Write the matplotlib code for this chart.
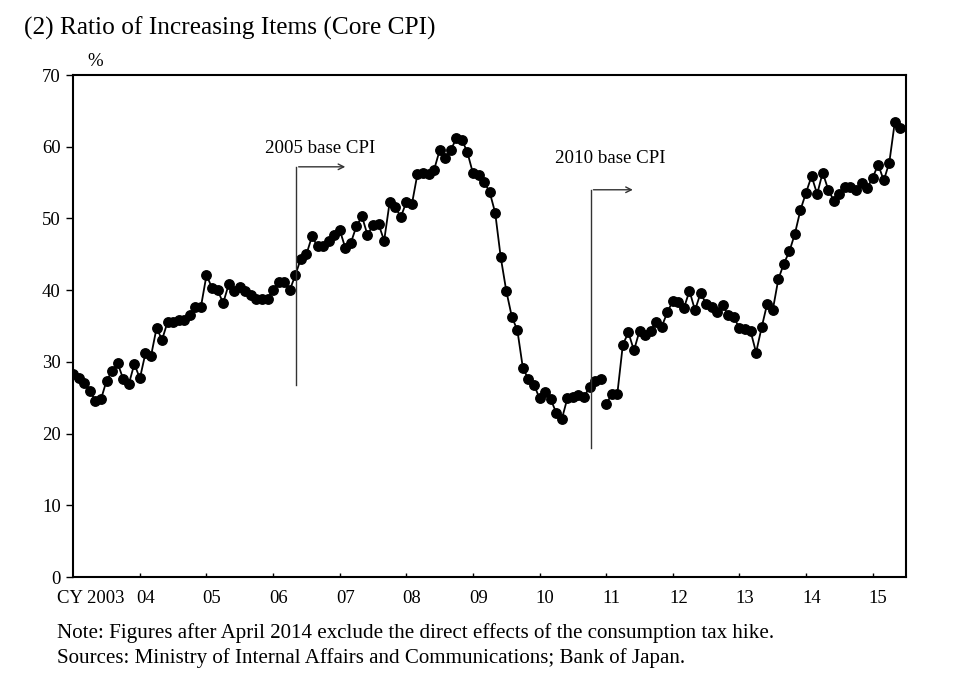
import numpy as np
import matplotlib
matplotlib.use("Agg")
import matplotlib.pyplot as plt

plt.rcParams['font.family'] = ['Liberation Serif', 'DejaVu Serif']

# ratio of increasing items, monthly, Jan 2003 - Dec 2010 (2005 base, extended)
old_base = [28.3, 27.7, 27.1, 25.9, 24.6, 24.8, 27.4, 28.7, 29.8, 27.6, 26.9, 29.7,
            27.7, 31.2, 30.8, 34.7, 33.1, 35.6, 35.5, 35.9, 35.9, 36.5, 37.7, 37.7,
            42.1, 40.3, 40.0, 38.2, 40.8, 39.9, 40.5, 39.9, 39.3, 38.8, 38.8, 38.8,
            40.0, 41.2, 41.2, 40.0, 42.1, 44.4, 45.0, 47.5, 46.1, 46.2, 46.8, 47.7,
            48.4, 45.9, 46.6, 48.9, 50.3, 47.7, 49.1, 49.2, 46.9, 52.3, 51.6, 50.2,
            52.3, 52.0, 56.2, 56.3, 56.2, 56.8, 59.5, 58.4, 59.5, 61.2, 61.0, 59.2,
            56.3, 56.1, 55.1, 53.7, 50.8, 44.6, 39.9, 36.3, 34.4, 29.1, 27.6, 26.8,
            24.9, 25.8, 24.8, 22.9, 22.0, 24.9, 25.1, 25.4, 25.1, 26.5, 27.4, 27.6]
# Jan 2011 - Jun 2015 (2010 base)
new_base = [24.1, 25.5, 25.5, 32.4, 34.1, 31.6, 34.3, 33.7, 34.3, 35.6, 34.9, 36.9,
            38.5, 38.3, 37.5, 39.9, 37.2, 39.6, 38.1, 37.6, 36.9, 37.9, 36.5, 36.2,
            34.7, 34.6, 34.3, 31.3, 34.8, 38.1, 37.2, 41.5, 43.7, 45.4, 47.9, 51.2,
            53.6, 55.9, 53.4, 56.4, 54.0, 52.5, 53.4, 54.4, 54.4, 54.0, 54.9, 54.2,
            55.7, 57.5, 55.3, 57.8, 63.5, 62.6]
year_labels = ["CY 2003", "04", "05", "06", "07", "08", "09", "10", "11", "12", "13", "14", "15"]

x_old = np.arange(len(old_base))
x_new = np.arange(len(new_base)) + len(old_base)

fig = plt.figure(figsize=(9.59, 6.79), dpi=100)
ax = fig.add_axes([0.0764, 0.1502, 0.8683, 0.7393])

style = dict(color='black', lw=1.3, marker='o', ms=6.8)
ax.plot(x_old, old_base, **style)
ax.plot(x_new, new_base, **style)

ax.set_xlim(0, 150)
ax.set_ylim(0, 70)
ax.set_yticks(range(0, 71, 10))
ax.tick_params(axis='y', direction='out', length=5, width=1, pad=4, labelsize=13.5)

# year boundary ticks (inward), labels just right of them
ax.set_xticks(np.arange(12, 150, 12))
ax.set_xticklabels([])
ax.tick_params(axis='x', which='major', direction='in', length=3, width=1)
lab_pos = [3.2] + [12 * i + 1 for i in range(1, len(year_labels))]
ax.set_xticks(lab_pos, minor=True)
ax.set_xticklabels(year_labels, minor=True)
ax.tick_params(axis='x', which='minor', length=0, pad=9, labelsize=13.5)

for s in ax.spines.values():
    s.set_linewidth(1.5)

ax.text(2.5, 71.9, "%", fontsize=13.5, ha='left', va='center')

# base change markers
ax.plot([40.1, 40.1], [26.8, 57.2], color='#333333', lw=1)
ax.annotate("", xy=(49.5, 57.2), xytext=(40.1, 57.2),
            arrowprops=dict(arrowstyle='->', color='#333333', lw=1))
ax.text(44.4, 59.8, "2005 base CPI", fontsize=13.6, ha='center', va='center')

ax.plot([93.2, 93.2], [18.0, 54.0], color='#333333', lw=1)
ax.annotate("", xy=(101.3, 54.0), xytext=(93.2, 54.0),
            arrowprops=dict(arrowstyle='->', color='#333333', lw=1))
ax.text(96.7, 58.4, "2010 base CPI", fontsize=13.6, ha='center', va='center')

fig.text(0.025, 0.958, "(2) Ratio of Increasing Items (Core CPI)", fontsize=18.3, ha='left', va='center')
fig.text(0.059, 0.068, "Note: Figures after April 2014 exclude the direct effects of the consumption tax hike.",
         fontsize=15.1, ha='left', va='center')
fig.text(0.059, 0.031, "Sources: Ministry of Internal Affairs and Communications; Bank of Japan.",
         fontsize=15.1, ha='left', va='center')

fig.savefig("out.png", dpi=100)
